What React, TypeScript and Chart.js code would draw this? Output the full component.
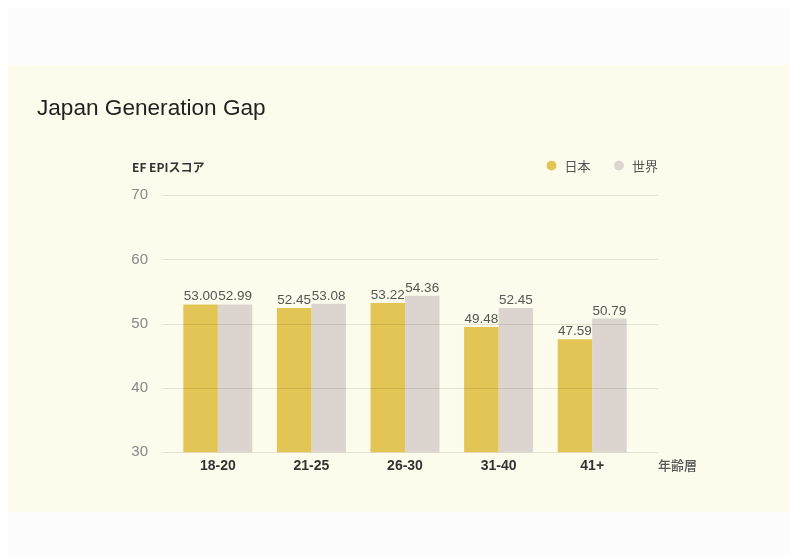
import { useEffect, useRef } from 'react';
import { Chart, registerables } from 'chart.js';

Chart.register(...registerables);

const categories = ['18-20', '21-25', '26-30', '31-40', '41+'];
const japanScores = [53.0, 52.45, 53.22, 49.48, 47.59];
const worldScores = [52.99, 53.08, 54.36, 52.45, 50.79];
const seriesNames = ['日本', '世界'];
const yMin = 30;
const yMax = 70;
const yStep = 10;
const chartTitle = 'Japan Generation Gap';
const yAxisTitle = 'EF EPIスコア';
const xAxisTitle = '年齢層';

const SANS = "'Liberation Sans', Arial, 'Noto Sans CJK JP', sans-serif";
const CJK = "'Noto Sans CJK JP', 'Liberation Sans', sans-serif";

const extGridPlugin = {
  id: 'extGrid',
  afterDatasetsDraw(chart: any) {
    const { ctx, chartArea, scales } = chart;
    const y = scales.y;
    ctx.save();
    ctx.strokeStyle = 'rgba(70,60,20,0.13)';
    ctx.lineWidth = 1;
    y.ticks.forEach((t: any) => {
      const py = Math.round(y.getPixelForValue(t.value)) + 0.5;
      ctx.beginPath();
      ctx.moveTo(chartArea.left - 9.5, py);
      ctx.lineTo(chartArea.right + 19, py);
      ctx.stroke();
    });
    ctx.restore();
  },
};

const valueLabelPlugin = {
  id: 'valueLabels',
  afterDatasetsDraw(chart: any) {
    const { ctx } = chart;
    ctx.save();
    ctx.font = `13.5px ${SANS}`;
    ctx.fillStyle = '#555';
    ctx.textAlign = 'center';
    ctx.textBaseline = 'alphabetic';
    chart.data.datasets.forEach((ds: any, i: number) => {
      const meta = chart.getDatasetMeta(i);
      meta.data.forEach((bar: any, j: number) => {
        ctx.fillText(Number(ds.data[j]).toFixed(2), bar.x, bar.y - 4);
      });
    });
    ctx.restore();
  },
};

const axisTextPlugin = {
  id: 'axisText',
  afterDraw(chart: any) {
    const { ctx, chartArea } = chart;
    ctx.save();
    ctx.textBaseline = 'middle';
    ctx.textAlign = 'left';
    ctx.fillStyle = '#333';
    ctx.font = `bold 12px ${CJK}`;
    ctx.fillText(yAxisTitle, chartArea.left - 39, chartArea.top - 28);
    ctx.fillStyle = '#555';
    ctx.font = `500 13px ${CJK}`;
    ctx.fillText(xAxisTitle, chartArea.right + 19, chartArea.bottom + 13);
    ctx.restore();
  },
};

export default function App() {
  const canvasRef = useRef<HTMLCanvasElement | null>(null);

  useEffect(() => {
    if (!canvasRef.current) return;
    const chart = new Chart(canvasRef.current, {
      type: 'bar',
      data: {
        labels: categories,
        datasets: [
          {
            label: seriesNames[0],
            data: japanScores,
            backgroundColor: '#e3c555',
            borderWidth: 0,
            categoryPercentage: 0.737,
            barPercentage: 1,
            xAxisID: 'x',
            yAxisID: 'y',
          },
          {
            label: seriesNames[1],
            data: worldScores,
            backgroundColor: '#dbd4cf',
            borderWidth: 0,
            categoryPercentage: 0.737,
            barPercentage: 1,
            xAxisID: 'x',
            yAxisID: 'y',
          },
        ],
      },
      options: {
        animation: false,
        responsive: false,
        layout: { padding: { left: 29, right: 110, top: 0, bottom: 31 } },
        plugins: {
          title: {
            display: true,
            text: chartTitle,
            align: 'start',
            color: '#222',
            font: { family: SANS, size: 22.6, weight: 'normal' },
            padding: { top: 30, bottom: 15 },
          },
          legend: {
            display: true,
            position: 'top',
            align: 'end',
            labels: {
              usePointStyle: true,
              pointStyle: 'circle',
              boxWidth: 13,
              boxHeight: 7,
              padding: 22,
              color: '#555',
              font: { family: CJK, size: 13 },
            },
          },
          tooltip: { enabled: false },
        },
        scales: {
          x: {
            type: 'category',
            position: 'bottom',
            grid: { display: false, drawTicks: false },
            border: { display: false },
            ticks: {
              color: '#333',
              padding: 6,
              font: { family: SANS, size: 14, weight: 'bold' },
            },
          },
          y: {
            type: 'linear',
            position: 'left',
            min: yMin,
            max: yMax,
            grid: { display: false, drawTicks: false },
            border: { display: false },
            ticks: {
              stepSize: yStep,
              padding: 23,
              color: '#888',
              font: { family: SANS, size: 15 },
            },
            afterFit(s: any) {
              s.width = 134;
            },
          },
          xPad: {
            type: 'category',
            position: 'top',
            labels: [''],
            grid: { display: false, drawTicks: false },
            border: { display: false },
            ticks: { display: false },
            afterFit(s: any) {
              s.height = 13;
            },
          },
          yPad: {
            type: 'linear',
            position: 'right',
            grid: { display: false, drawTicks: false },
            border: { display: false },
            ticks: { display: false },
            afterFit(s: any) {
              s.width = 41;
            },
          },
        },
      } as any,
      plugins: [extGridPlugin, valueLabelPlugin, axisTextPlugin],
    });
    return () => chart.destroy();
  }, []);

  return (
    <div
      style={{
        position: 'fixed',
        left: 8,
        top: 8,
        width: 782,
        height: 547,
        background: '#fcfcfc',
      }}
    >
      <div style={{ position: 'absolute', left: 0, top: 57, background: '#fdfcec', width: 782, height: 447 }}>
        <canvas ref={canvasRef} width={782} height={447} style={{ display: 'block' }} />
      </div>
    </div>
  );
}
